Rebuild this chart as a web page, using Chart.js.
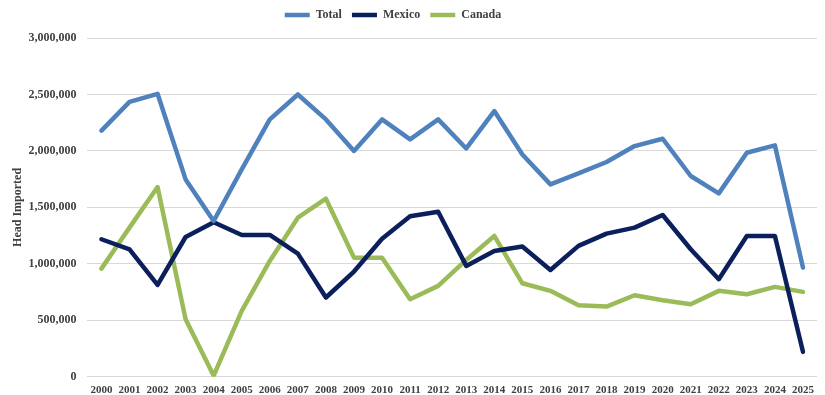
<!DOCTYPE html>
<html>
<head>
<meta charset="utf-8">
<script src="https://cdn.jsdelivr.net/npm/chart.js@4"></script>
<style>
    html, body { margin: 0; padding: 0; background: #fff; }
    #wrap { width: 825px; height: 395px; }
</style>
</head>
<body>
<div id="wrap"><canvas id="imports-chart"></canvas></div>
<script>
const years = ["2000", "2001", "2002", "2003", "2004", "2005", "2006", "2007", "2008", "2009", "2010", "2011", "2012",
    "2013", "2014", "2015", "2016", "2017", "2018", "2019", "2020", "2021", "2022", "2023", "2024", "2025"];

const totalHead = [2180000, 2435000, 2506000, 1748000, 1380000, 1837000, 2279000, 2500000, 2279000, 2000000, 2279000, 2102000, 2279000,
    2022000, 2353000, 1969000, 1704000, 1801000, 1902000, 2043000, 2108000, 1778000, 1624000, 1984000, 2049000, 967000];

const mexicoHead = [1218000, 1129000, 814000, 1238000, 1368000, 1256000, 1256000, 1091000, 702000, 932000, 1223000, 1421000, 1462000,
    982000, 1114000, 1153000, 946000, 1159000, 1268000, 1321000, 1433000, 1129000, 864000, 1247000, 1247000, 221000];

const canadaHead = [958000, 1321000, 1680000, 510000, 10000, 584000, 1026000, 1409000, 1577000, 1055000, 1055000, 687000, 805000,
    1035000, 1247000, 828000, 761000, 634000, 622000, 722000, 678000, 643000, 761000, 731000, 796000, 752000];

const yTicks = [0, 500000, 1000000, 1500000, 2000000, 2500000, 3000000];

const fontFamily = "'Liberation Serif', 'Times New Roman', serif";
const textColor = "#404040";

let lineSet = (label, data, color) => {
    return {
        label: label,
        data: data,
        borderColor: color,
        backgroundColor: color,
        borderWidth: 4.5,
        borderCapStyle: "round",
        borderJoinStyle: "round",
        pointRadius: 0,
        pointHoverRadius: 0,
        tension: 0,
        fill: false
    };
};

// legend sits a bit left of centre in the original, with extra room below it
const legendTweak = {
    id: "legendTweak",
    beforeInit: chart => {
        const legend = chart.legend;
        const fit = legend.fit;
        legend.fit = function () {
            fit.call(this);
            this.height += 7;
        };
        const draw = legend.draw;
        legend.draw = function () {
            this.left -= 21;
            this.right -= 21;
            draw.call(this);
            this.left += 21;
            this.right += 21;
        };
    }
};

const chartData = {
    labels: years,
    datasets: [
        lineSet("Total", totalHead, "#4f81bd"),
        lineSet("Mexico", mexicoHead, "#0b1f5c"),
        lineSet("Canada", canadaHead, "#9bbb59")
    ]
};

const chartOptions = {
    responsive: true,
    maintainAspectRatio: false,
    animation: false,
    layout: {
        padding: { left: 11, right: 8, top: -1, bottom: -9 }
    },
    plugins: {
        legend: {
            position: "top",
            labels: {
                usePointStyle: true,
                pointStyle: "line",
                pointStyleWidth: 25,
                boxHeight: 5,
                padding: 10,
                color: textColor,
                font: { family: fontFamily, size: 12, weight: "bold" }
            }
        },
        tooltip: { enabled: false }
    },
    scales: {
        x: {
            offset: true,
            grid: { display: false, drawTicks: false },
            border: { display: false },
            ticks: {
                color: textColor,
                padding: 7,
                maxRotation: 0,
                autoSkip: false,
                font: { family: fontFamily, size: 11, weight: "bold" }
            }
        },
        y: {
            min: 0,
            max: 3000000,
            afterBuildTicks: axis => {
                axis.ticks = yTicks.map(v => ({ value: v }));
            },
            grid: { color: "#d9d9d9", lineWidth: 1, drawTicks: false },
            border: { display: false },
            title: {
                display: true,
                text: "Head Imported",
                color: textColor,
                padding: { top: 0, bottom: -8 },
                font: { family: fontFamily, size: 12, weight: "bold" }
            },
            ticks: {
                color: textColor,
                padding: 11,
                callback: v => v.toLocaleString("en-US"),
                font: { family: fontFamily, size: 12, weight: "bold" }
            }
        }
    }
};

new Chart("imports-chart", {
    type: "line",
    data: chartData,
    options: chartOptions,
    plugins: [legendTweak]
});
</script>
</body>
</html>
